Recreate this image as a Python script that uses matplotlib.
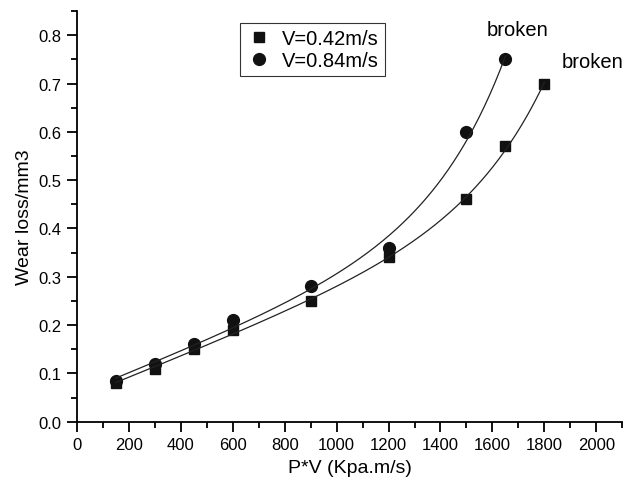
import numpy as np
import matplotlib.pyplot as plt
from matplotlib.ticker import MultipleLocator

plt.rcParams["font.family"] = ["Liberation Sans", "DejaVu Sans"]

# data
pv_042 = [150, 300, 450, 600, 900, 1200, 1500, 1650, 1800]
wear_042 = [0.08, 0.11, 0.15, 0.19, 0.25, 0.34, 0.46, 0.57, 0.70]
pv_084 = [150, 300, 450, 600, 900, 1200, 1500, 1650]
wear_084 = [0.085, 0.12, 0.16, 0.21, 0.28, 0.36, 0.60, 0.75]
labels = ["V=0.42m/s", "V=0.84m/s"]


def fit_curve(x, y):
    """Fit y = y0 + a*x + A*exp(x/t), t found by scan."""
    x = np.asarray(x, float)
    y = np.asarray(y, float)
    best = None
    for t in np.linspace(50, 3000, 800):
        m = np.column_stack([np.ones_like(x), x, np.exp(x / t)])
        coef, *_ = np.linalg.lstsq(m, y, rcond=None)
        err = np.sum((m @ coef - y) ** 2)
        if best is None or err < best[0]:
            best = (err, t, coef)
    _, t, coef = best
    xs = np.linspace(x.min(), x.max(), 300)
    return xs, coef[0] + coef[1] * xs + coef[2] * np.exp(xs / t)


fig = plt.figure(figsize=(6.26, 4.81), dpi=100)
ax = fig.add_axes([0.123, 0.121, 0.871, 0.854])

ax.plot(pv_042, wear_042, "s", color="#111111", markersize=7, label=labels[0])
ax.plot(pv_084, wear_084, "o", color="#111111", markersize=8.5, label=labels[1])

for x, y in [(pv_042, wear_042), (pv_084, wear_084)]:
    xs, ys = fit_curve(x, y)
    ax.plot(xs, ys, "-", color="#222222", linewidth=0.9)

ax.text(pv_084[-1] + 45, wear_084[-1] + 0.062, "broken", ha="center", va="center", fontsize=14.5)
ax.text(pv_042[-1] + 185, wear_042[-1] + 0.046, "broken", ha="center", va="center", fontsize=14.5)

ax.set_xlim(0, 2100)
ax.set_ylim(0, 0.85)
ax.xaxis.set_major_locator(MultipleLocator(200))
ax.xaxis.set_minor_locator(MultipleLocator(100))
ax.yaxis.set_major_locator(MultipleLocator(0.1))
ax.yaxis.set_minor_locator(MultipleLocator(0.05))
ax.yaxis.set_major_formatter(plt.FuncFormatter(lambda v, p: f"{v:.1f}"))

ax.spines["top"].set_visible(False)
ax.spines["right"].set_visible(False)
ax.spines["left"].set_linewidth(1.3)
ax.spines["bottom"].set_linewidth(1.3)
ax.tick_params(which="major", direction="out", length=7, width=1.3, labelsize=12, pad=4)
ax.tick_params(which="minor", direction="out", length=4, width=1.3)

ax.set_xlabel("P*V (Kpa.m/s)", fontsize=14, labelpad=5)
ax.set_ylabel("Wear loss/mm3", fontsize=14, labelpad=4)

leg = ax.legend(loc="upper left", bbox_to_anchor=(0.299, 0.971), fontsize=14.5,
                frameon=True, fancybox=False, edgecolor="black", borderpad=0.3,
                handletextpad=0.5, labelspacing=0.15, handlelength=1.3,
                borderaxespad=0)
leg.get_frame().set_linewidth(0.8)

fig.savefig("out.png", dpi=100)
